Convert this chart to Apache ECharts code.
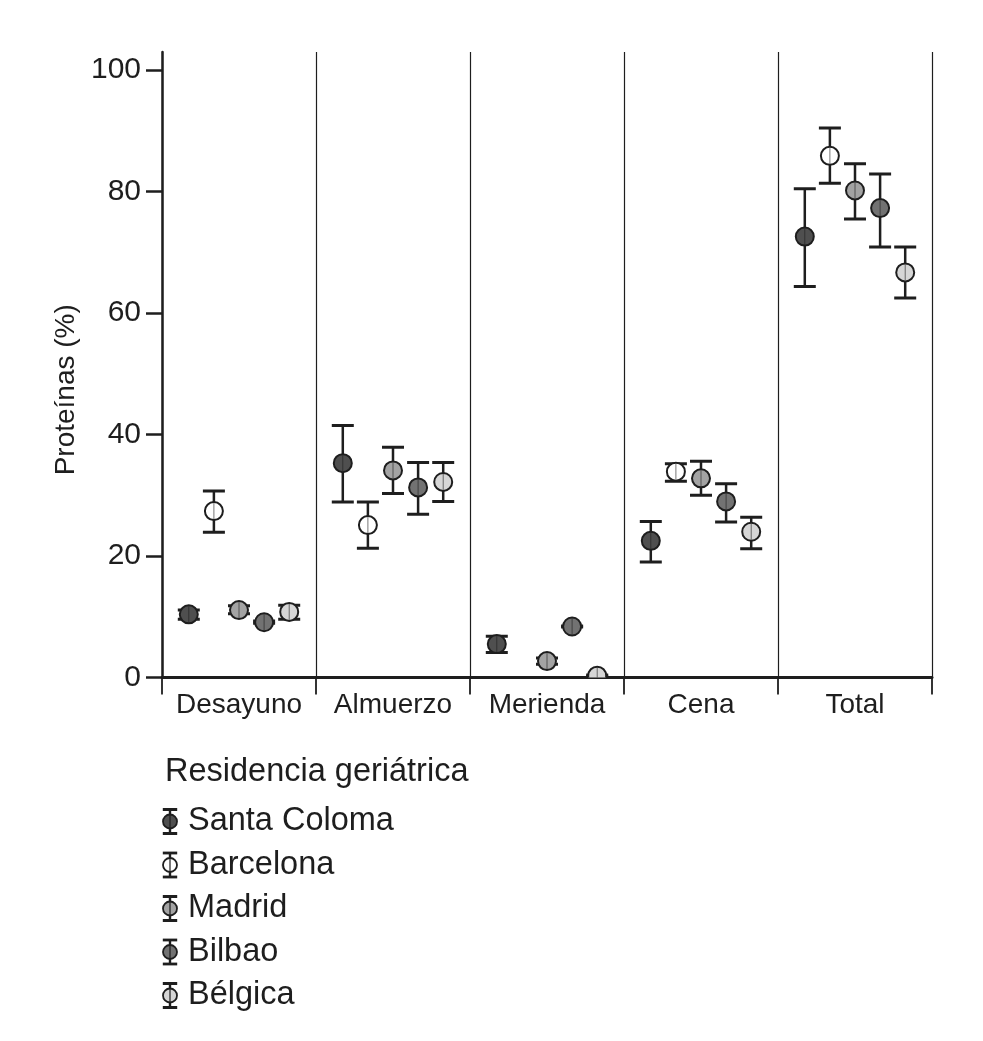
<!DOCTYPE html>
<html><head><meta charset="utf-8">
<script src="https://cdn.jsdelivr.net/npm/echarts@6/dist/echarts.min.js"></script>
<style>html,body{margin:0;padding:0;background:#fff}#c{width:983px;height:1041px}</style>
</head><body><div id="c"></div>
<script>
const categories = ['Desayuno', 'Almuerzo', 'Merienda', 'Cena', 'Total'];
const seriesNames = ['Santa Coloma', 'Barcelona', 'Madrid', 'Bilbao', 'Bélgica'];
const seriesColors = ['#4f4f4f', '#ffffff', '#a3a3a3', '#727272', '#d6d6d6'];
const yTicks = [0, 20, 40, 60, 80, 100];

// mean, lower and upper error-bar values per category (null = no data)
const santaColomaMean = [10.4, 35.3, 5.5, 22.5, 72.6];
const santaColomaLow  = [9.6, 28.9, 4.1, 19.0, 64.4];
const santaColomaHigh = [11.1, 41.5, 6.8, 25.7, 80.5];

const barcelonaMean = [27.4, 25.1, null, 33.9, 85.9];
const barcelonaLow  = [23.9, 21.3, null, 32.3, 81.4];
const barcelonaHigh = [30.7, 28.9, null, 35.2, 90.5];

const madridMean = [11.1, 34.1, 2.7, 32.8, 80.2];
const madridLow  = [10.5, 30.3, 2.2, 30.0, 75.5];
const madridHigh = [11.8, 37.9, 3.2, 35.6, 84.6];

const bilbaoMean = [9.1, 31.3, 8.4, 29.0, 77.3];
const bilbaoLow  = [8.95, 26.9, 8.3, 25.6, 70.9];
const bilbaoHigh = [9.3, 35.4, 8.5, 31.9, 82.9];

const belgicaMean = [10.8, 32.2, 0.3, 24.0, 66.7];
const belgicaLow  = [9.6, 29.0, 0.2, 21.2, 62.5];
const belgicaHigh = [11.9, 35.4, 0.4, 26.4, 70.9];

const means = [santaColomaMean, barcelonaMean, madridMean, bilbaoMean, belgicaMean];
const lows = [santaColomaLow, barcelonaLow, madridLow, bilbaoLow, belgicaLow];
const highs = [santaColomaHigh, barcelonaHigh, madridHigh, bilbaoHigh, belgicaHigh];

const FONT = "'Liberation Sans', Arial, Helvetica, sans-serif";
const INK = '#1e1e1e';

function legendIcon(color) {
  const svg = '<svg xmlns="http://www.w3.org/2000/svg" width="21" height="28" viewBox="0 0 21 28">' +
    '<line x1="8" y1="2" x2="8" y2="26" stroke="#1e1e1e" stroke-width="2.4"/>' +
    '<line x1="0.8" y1="2" x2="15.2" y2="2" stroke="#1e1e1e" stroke-width="2.8"/>' +
    '<line x1="0.8" y1="26" x2="15.2" y2="26" stroke="#1e1e1e" stroke-width="2.8"/>' +
    '<circle cx="8" cy="14" r="7" fill="' + color + '" stroke="#1e1e1e" stroke-width="1.8"/>' +
    '<line x1="8" y1="7.5" x2="8" y2="20.5" stroke="#1e1e1e" stroke-width="1.2"/>' +
    '</svg>';
  return 'image://data:image/svg+xml;charset=utf-8,' + encodeURIComponent(svg);
}

function renderItem(params, api) {
  const cat = api.value(0);
  const band = api.size([1, 0])[0];
  const off = (params.seriesIndex - 2) * band * 0.163;
  const pm = api.coord([cat, api.value(1)]);
  const pl = api.coord([cat, api.value(2)]);
  const ph = api.coord([cat, api.value(3)]);
  const x = pm[0] + off;
  const cap = 11;
  const r = 9;
  return {
    type: 'group',
    children: [
      { type: 'line', shape: { x1: x, y1: ph[1], x2: x, y2: pl[1] }, style: { stroke: INK, lineWidth: 2.5 } },
      { type: 'line', shape: { x1: x - cap, y1: ph[1], x2: x + cap, y2: ph[1] }, style: { stroke: INK, lineWidth: 3 } },
      { type: 'line', shape: { x1: x - cap, y1: pl[1], x2: x + cap, y2: pl[1] }, style: { stroke: INK, lineWidth: 3 } },
      { type: 'circle', shape: { cx: x, cy: pm[1], r: r }, style: { fill: api.visual('color'), stroke: INK, lineWidth: 2 } },
      { type: 'line', shape: { x1: x, y1: pm[1] - r + 1, x2: x, y2: pm[1] + r - 1 }, style: { stroke: INK, lineWidth: 1, opacity: 0.6 } }
    ]
  };
}

const series = seriesNames.map((name, s) => {
  const data = [];
  categories.forEach((c, i) => {
    if (means[s][i] !== null) data.push([i, means[s][i], lows[s][i], highs[s][i]]);
  });
  return {
    type: 'custom',
    name: name,
    renderItem: renderItem,
    clip: true,
    itemStyle: { color: seriesColors[s] },
    encode: { x: 0, y: [1, 2, 3] },
    data: data,
    z: 5
  };
});

const chart = echarts.init(document.getElementById('c'), null, { renderer: 'canvas' });
chart.setOption({
  backgroundColor: '#fff',
  animation: false,
  textStyle: { fontFamily: FONT },
  title: {
    text: 'Residencia geriátrica',
    left: 160,
    top: 751,
    textStyle: { fontSize: 32.5, fontWeight: 'normal', color: INK, fontFamily: FONT }
  },
  legend: {
    orient: 'vertical',
    left: 157,
    top: 800,
    itemWidth: 21,
    itemHeight: 28,
    itemGap: 10.5,
    selectedMode: false,
    textStyle: { fontSize: 32.5, color: INK, fontFamily: FONT },
    data: seriesNames.map((n, i) => ({ name: n, icon: legendIcon(seriesColors[i]) }))
  },
  grid: { left: 162, right: 51, top: 52, bottom: 363.5 },
  xAxis: {
    type: 'category',
    data: categories,
    boundaryGap: true,
    axisLine: { lineStyle: { color: INK, width: 3 } },
    axisTick: { show: true, interval: 0, length: 17, lineStyle: { color: INK, width: 1.8 } },
    splitLine: { show: true, interval: 0, lineStyle: { color: INK, width: 1.2 } },
    axisLabel: { interval: 0, fontSize: 28, color: INK, margin: 14, fontFamily: FONT }
  },
  yAxis: {
    type: 'value',
    min: 0,
    max: 103,
    name: 'Proteínas (%)',
    nameLocation: 'middle',
    nameGap: 82,
    nameTextStyle: { fontSize: 28, color: INK, fontFamily: FONT, padding: [0, 50, 0, 0] },
    axisLine: { show: true, lineStyle: { color: INK, width: 2.5 } },
    axisTick: { show: true, length: 16, lineStyle: { color: INK, width: 2.5 }, customValues: yTicks },
    axisLabel: { fontSize: 30, color: INK, margin: 21, fontFamily: FONT, customValues: yTicks },
    splitLine: { show: false }
  },
  series: series
});
</script>
</body></html>
